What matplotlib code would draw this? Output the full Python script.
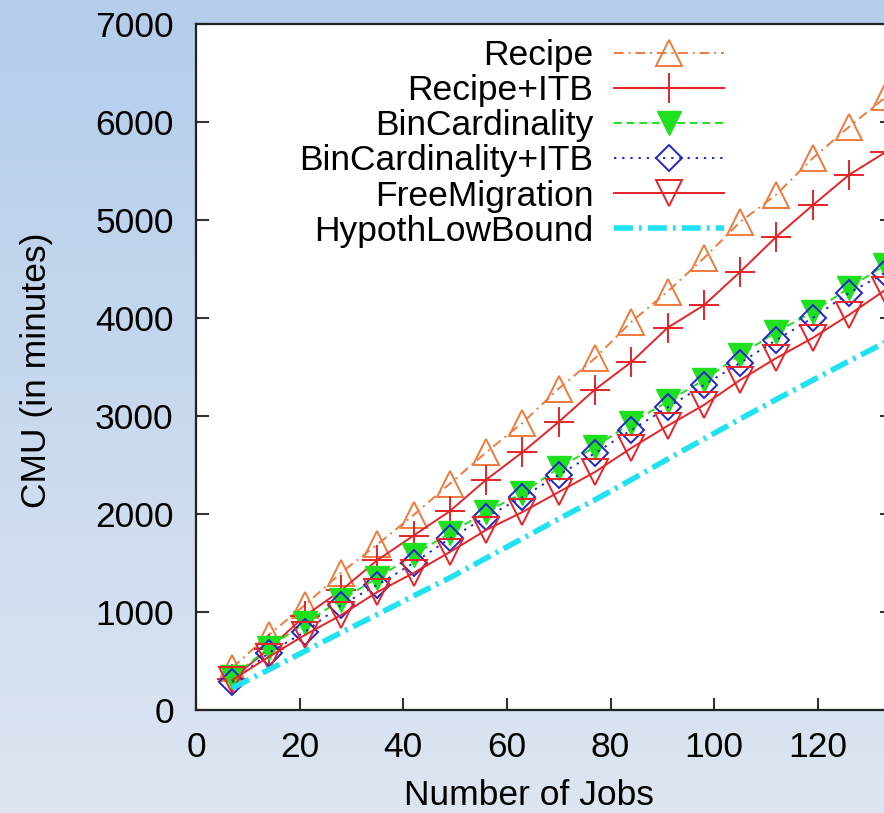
import numpy as np
import matplotlib
matplotlib.use("Agg")
import matplotlib.pyplot as plt
from matplotlib.colors import LinearSegmentedColormap

plt.rcParams['font.family'] = ['Liberation Sans', 'DejaVu Sans']

jobs = [7, 14, 21, 28, 35, 42, 49, 56, 63, 70, 77, 84, 91, 98, 105, 112, 119, 126, 133]

recipe = [430, 765, 1070, 1400, 1690, 1990, 2310, 2630, 2930, 3280,
          3590, 3960, 4270, 4610, 4980, 5260, 5630, 5950, 6250]
recipe_itb = [320, 620, 960, 1220, 1530, 1780, 2030, 2350, 2630, 2940,
              3270, 3550, 3900, 4130, 4470, 4830, 5150, 5460, 5690]
bincard = [337, 633, 888, 1122, 1347, 1582, 1806, 2020, 2214, 2469,
           2684, 2929, 3148, 3367, 3622, 3857, 4061, 4306, 4541]
bincard_itb = [286, 582, 796, 1071, 1276, 1500, 1750, 1969, 2173, 2398,
               2622, 2857, 3087, 3316, 3541, 3776, 4000, 4255, 4459]
freemig = [306, 541, 765, 969, 1204, 1398, 1612, 1837, 2020, 2224,
           2429, 2673, 2900, 3112, 3367, 3592, 3796, 4031, 4286]
lowbound = [224, 410, 600, 790, 975, 1165, 1350, 1550, 1750, 1950,
            2145, 2350, 2560, 2765, 2970, 3170, 3365, 3560, 3750]

orange = '#f07a3c'
red = '#e62428'
green = '#1fe01f'
blue = '#2424cc'
cyan = '#20e2f0'
fs = 25.5

fig = plt.figure(figsize=(8.84, 8.13), dpi=100)

# light blue gradient backdrop
bg = fig.add_axes([0, 0, 1, 1], zorder=-10)
cmap = LinearSegmentedColormap.from_list('bg', ['#dde5f1', '#b3cdeb'])
grad = np.linspace(0, 1, 256).reshape(-1, 1)
bg.imshow(grad, aspect='auto', cmap=cmap, origin='lower', extent=[0, 1, 0, 1])
bg.axis('off')

ax = fig.add_axes([0.2217, 0.1267, 0.7873, 0.8438])
ax.set_facecolor('white')

lw = 1.4
mew = 1.4
ax.plot(jobs, recipe, color=orange, lw=lw, dashes=(5, 2.5, 1, 2.5), marker='^',
        ms=19, mfc='none', mew=mew, label='Recipe')
ax.plot(jobs, recipe_itb, color=red, lw=lw, marker='+', ms=22, mew=mew,
        label='Recipe+ITB')
ax.plot(jobs, bincard, color=green, lw=lw, dashes=(4, 2.5), marker='v', ms=17,
        mec=green, label='BinCardinality')
ax.plot(jobs, bincard_itb, color=blue, lw=lw, dashes=(1.2, 3), marker='D', ms=13,
        mfc='none', mew=mew, label='BinCardinality+ITB')
ax.plot(jobs, freemig, color=red, lw=lw, marker='v', ms=19, mfc='none', mew=mew,
        label='FreeMigration')
ax.plot(jobs, lowbound, color=cyan, lw=4, dashes=(3.4, 1.1, 0.5, 1.1),
        label='HypothLowBound')

ax.set_xlim(0, 134.3)
ax.set_ylim(0, 7000)
ax.set_xticks(range(0, 140, 20))
ax.set_yticks(range(0, 7001, 1000))

for s in ax.spines.values():
    s.set_linewidth(1.6)
    s.set_color('#222222')

ax.tick_params(axis='both', direction='in', length=9, width=1.5,
               labelsize=fs, color='#333333')
ax.tick_params(axis='y', pad=16, right=True)
ax.tick_params(axis='x', pad=15)
for t in ax.yaxis.get_major_ticks():
    t.tick2line.set_color('#bbbbbb')

ax.set_xlabel('Number of Jobs', fontsize=fs)
ax.set_ylabel('CMU (in minutes)', fontsize=fs)
ax.xaxis.set_label_coords(0.478, -0.1)
ax.yaxis.set_label_coords(-0.205, 0.4956)

ax.legend(loc='upper right', bbox_to_anchor=(0.759, 0.978), frameon=False,
          markerfirst=False, fontsize=fs, handlelength=3.1, handletextpad=0.6,
          labelspacing=0.06, borderpad=0, borderaxespad=0)

plt.savefig('out.png', dpi=100)
